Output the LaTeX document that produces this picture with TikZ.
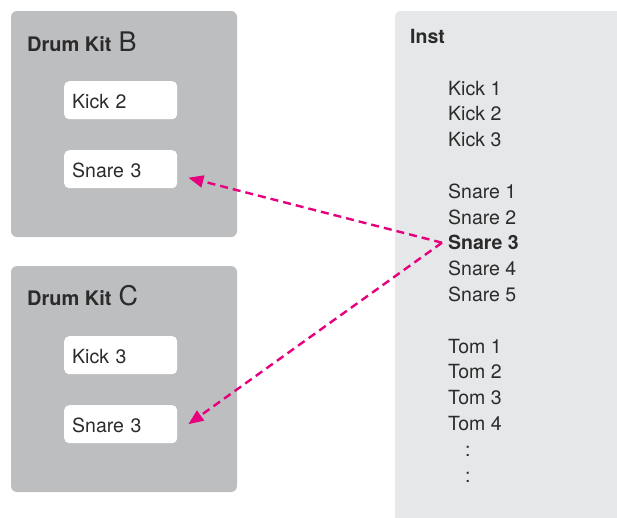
\documentclass[tikz,border=0pt]{standalone}
\usepackage{fontspec}
\setmainfont{TeX Gyre Heros}
\usetikzlibrary{arrows.meta}
\definecolor{kitgray}{HTML}{BDBEC0}
\definecolor{instgray}{HTML}{E6E7E8}
\definecolor{txt}{HTML}{2B2B2B}
\definecolor{mag}{HTML}{E6007E}
\begin{document}
\begin{tikzpicture}[x=1pt,y=-1pt,
  kit/.style={fill=kitgray, rounded corners=6pt},
  slot/.style={fill=white, rounded corners=5pt, anchor=north west, inner xsep=8pt, inner ysep=10.5pt,
    text width=97pt, align=left, text height=17pt, text depth=0pt, text=txt,
    font=\fontsize{19.5}{22}\selectfont},
  title/.style={anchor=base west, inner sep=0pt, text=txt},
  item/.style={anchor=base west, inner sep=0pt, text=txt, font=\fontsize{19.5}{22}\selectfont},
  conn/.style={draw=mag, line width=2.4pt, dash pattern=on 8pt off 5pt,
    -{Triangle[length=15pt,width=12pt]}, fill=none}
]
\useasboundingbox (0,0) rectangle (617,517);
% Inst panel
\begin{scope}
  \clip (0,0) rectangle (617,517);
  \fill[instgray, rounded corners=6pt] (395,11) rectangle (660,560);
\end{scope}
% Drum kit panels
\fill[kit] (11,11) rectangle (237,237);
\fill[kit] (11,266) rectangle (237,492);
% Titles
\node[title] (btitle) at (27,51) {\fontsize{20}{24}\selectfont\bfseries Drum Kit\hspace{7pt}\fontsize{27}{30}\selectfont\mdseries B};
\node[title] (ctitle) at (27,305) {\fontsize{20}{24}\selectfont\bfseries Drum Kit\hspace{7pt}\fontsize{27}{30}\selectfont\mdseries C};
\node[title] (insttitle) at (410,43) {\fontsize{19.5}{22}\selectfont\bfseries Inst};
% Slots
\node[slot] (bkick) at (64,81) {Kick 2};
\node[slot] (bsnare) at (64,150) {Snare 3};
\node[slot] (ckick) at (64,336) {Kick 3};
\node[slot] (csnare) at (64,405) {Snare 3};
% Inst list
\node[item] (k1) at (448,95) {Kick 1};
\node[item] (k2) at (448,120.8) {Kick 2};
\node[item] (k3) at (448,146.6) {Kick 3};
\node[item] (s1) at (448,198.2) {Snare 1};
\node[item] (s2) at (448,224) {Snare 2};
\node[item] (s3) at (448,249.8) {\bfseries Snare 3};
\node[item] (s4) at (448,275.6) {Snare 4};
\node[item] (s5) at (448,301.4) {Snare 5};
\node[item] (t1) at (448,353) {Tom 1};
\node[item] (t2) at (448,378.8) {Tom 2};
\node[item] (t3) at (448,404.6) {Tom 3};
\node[item] (t4) at (448,430.4) {Tom 4};
\node[item] (d1) at (465,456.2) {:};
\node[item] (d2) at (465,482) {:};
% Connectors
\coordinate (src) at ([xshift=-6pt]s3.west);
\coordinate (tipb) at ([xshift=11pt,yshift=-8.5pt]bsnare.east);
\coordinate (tipc) at ([xshift=11pt]csnare.east);
\draw[conn] (src) -- (tipb);
\draw[conn] (src) -- (tipc);
\end{tikzpicture}
\end{document}
